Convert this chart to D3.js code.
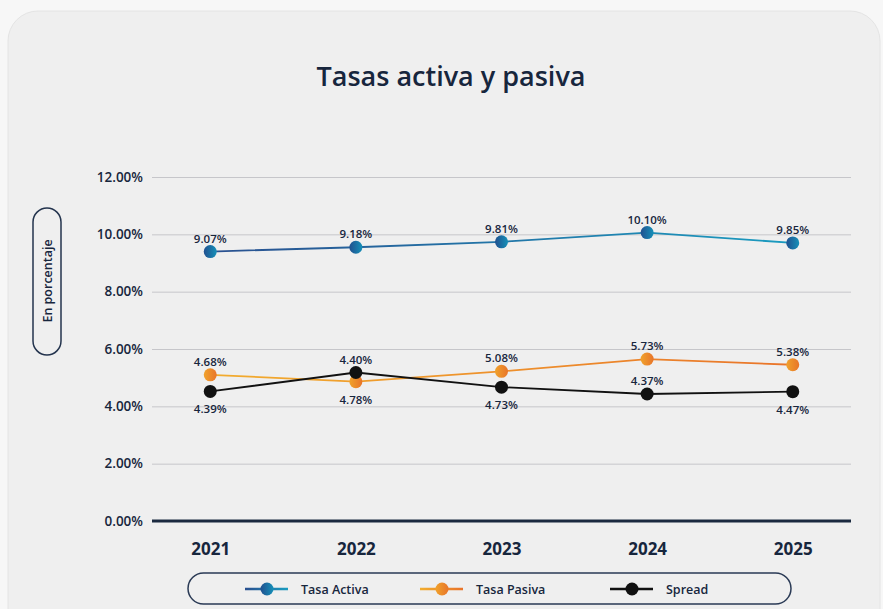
<!DOCTYPE html>
<html>
<head>
<meta charset="utf-8">
<script src="https://cdn.jsdelivr.net/npm/d3@7"></script>
<style>
  body { margin: 0; background: #f7f7f7; }
  svg { display: block; font-family: "Open Sans", "Noto Sans", sans-serif; }
</style>
</head>
<body>
<script>
// data (plotted positions) + the printed labels
const years = ['2021', '2022', '2023', '2024', '2025'];
const activa = [9.40, 9.55, 9.74, 10.06, 9.70];
const pasiva = [5.10, 4.86, 5.22, 5.65, 5.45];
const spread = [4.52, 5.18, 4.67, 4.43, 4.51];
const activaLabels = ['9.07%', '9.18%', '9.81%', '10.10%', '9.85%'];
const pasivaLabels = ['4.68%', '4.78%', '5.08%', '5.73%', '5.38%'];
const spreadLabels = ['4.39%', '4.40%', '4.73%', '4.37%', '4.47%'];
const pasivaSide = ['up', 'down', 'up', 'up', 'up'];
const spreadSide = ['down', 'up', 'down', 'up', 'down'];
const yTicks = [0, 2, 4, 6, 8, 10, 12];

const W = 883, H = 609;
const ink = '#17263d';

const svg = d3.select('body').append('svg')
    .attr('width', W)
    .attr('height', H);

const defs = svg.append('defs');

function lineGrad(id, c1, c2) {
    const g = defs.append('linearGradient').attr('id', id)
        .attr('gradientUnits', 'userSpaceOnUse')
        .attr('x1', 200).attr('x2', 800).attr('y1', 0).attr('y2', 0);
    g.append('stop').attr('offset', 0).attr('stop-color', c1);
    g.append('stop').attr('offset', 1).attr('stop-color', c2);
}
function dotGrad(id, c1, c2) {
    const g = defs.append('linearGradient').attr('id', id)
        .attr('x1', 0).attr('x2', 1).attr('y1', 0).attr('y2', 0);
    g.append('stop').attr('offset', 0).attr('stop-color', c1);
    g.append('stop').attr('offset', 1).attr('stop-color', c2);
}
lineGrad('gActiva', '#2a4f8f', '#1a9cc0');
lineGrad('gPasiva', '#f2ad2e', '#e9742a');
dotGrad('dActiva', '#21508f', '#1590b8');
dotGrad('dPasiva', '#f0a22c', '#e8752a');

// card
svg.append('rect')
    .attr('x', 8).attr('y', 11)
    .attr('width', 872).attr('height', 640)
    .attr('rx', 30)
    .attr('fill', '#efefef')
    .attr('stroke', '#e4e4e4');

svg.append('text')
    .attr('x', 451).attr('y', 86)
    .attr('text-anchor', 'middle')
    .attr('font-size', 27)
    .attr('font-weight', 600)
    .attr('fill', ink)
    .text('Tasas activa y pasiva');

const x = d3.scalePoint()
    .domain(years)
    .range([152, 851])
    .padding(0.4);

const y = d3.scaleLinear()
    .domain([0, 12])
    .range([521, 177]);

// grid
const yAxis = svg.append('g')
    .attr('transform', 'translate(152,0)')
    .call(d3.axisLeft(y).tickValues(yTicks).tickSize(-699).tickFormat(d => d.toFixed(2) + '%'));
yAxis.select('.domain').remove();
yAxis.selectAll('.tick line').attr('stroke', '#c6c6ca').attr('stroke-width', 1);
yAxis.selectAll('.tick text')
    .attr('x', -9)
    .attr('font-size', 13.5)
    .attr('font-weight', 600)
    .attr('fill', ink)
    .attr('font-family', '"Open Sans", sans-serif');

// base line
svg.append('line')
    .attr('x1', 152).attr('x2', 851)
    .attr('y1', y(0)).attr('y2', y(0))
    .attr('stroke', '#1b2a40').attr('stroke-width', 3);

// x axis labels
const xAxis = svg.append('g')
    .attr('transform', 'translate(0,' + y(0) + ')')
    .call(d3.axisBottom(x).tickSize(0).tickPadding(22));
xAxis.select('.domain').remove();
xAxis.selectAll('.tick text')
    .attr('font-size', 17)
    .attr('font-weight', 700)
    .attr('fill', ink)
    .attr('font-family', '"Open Sans", sans-serif');

// y axis label pill
svg.append('rect')
    .attr('x', 33).attr('y', 208)
    .attr('width', 28).attr('height', 147)
    .attr('rx', 14)
    .attr('fill', 'none')
    .attr('stroke', '#24344e').attr('stroke-width', 1.5);
svg.append('text')
    .attr('transform', 'translate(51.5,281) rotate(-90)')
    .attr('text-anchor', 'middle')
    .attr('font-size', 12.5)
    .attr('font-weight', 600)
    .attr('fill', ink)
    .text('En porcentaje');

const line = d3.line()
    .x((d, i) => x(years[i]))
    .y(d => y(d));

const series = [
    { vals: activa, labels: activaLabels, side: years.map(() => 'up'), stroke: 'url(#gActiva)', dot: 'url(#dActiva)' },
    { vals: pasiva, labels: pasivaLabels, side: pasivaSide, stroke: 'url(#gPasiva)', dot: 'url(#dPasiva)' },
    { vals: spread, labels: spreadLabels, side: spreadSide, stroke: '#111111', dot: '#111111' }
];

series.forEach(s => {
    svg.append('path')
        .attr('d', line(s.vals))
        .attr('fill', 'none')
        .attr('stroke', s.stroke)
        .attr('stroke-width', 1.8);
});

series.forEach(s => {
    svg.selectAll(null)
        .data(s.vals)
        .enter()
        .append('circle')
        .attr('cx', (d, i) => x(years[i]))
        .attr('cy', d => y(d))
        .attr('r', 6.5)
        .attr('fill', s.dot);

    svg.selectAll(null)
        .data(s.vals)
        .enter()
        .append('text')
        .attr('x', (d, i) => x(years[i]))
        .attr('y', (d, i) => y(d) + (s.side[i] === 'up' ? -9 : 22))
        .attr('text-anchor', 'middle')
        .attr('font-size', 11.5)
        .attr('font-weight', 600)
        .attr('fill', ink)
        .text((d, i) => s.labels[i]);
});

// legend
svg.append('rect')
    .attr('x', 188).attr('y', 573)
    .attr('width', 603).attr('height', 31)
    .attr('rx', 15.5)
    .attr('fill', 'none')
    .attr('stroke', '#2a3a55').attr('stroke-width', 1.5);

const legend = [
    { name: 'Tasa Activa', x0: 245, c1: '#2a4f8f', c2: '#1a9cc0', dot: 'url(#dActiva)' },
    { name: 'Tasa Pasiva', x0: 420, c1: '#f2ad2e', c2: '#e9742a', dot: 'url(#dPasiva)' },
    { name: 'Spread', x0: 610, c1: '#111111', c2: '#111111', dot: '#111111' }
];
legend.forEach((l, i) => {
    const g = defs.append('linearGradient').attr('id', 'lg' + i)
        .attr('gradientUnits', 'userSpaceOnUse')
        .attr('x1', l.x0).attr('x2', l.x0 + 43).attr('y1', 0).attr('y2', 0);
    g.append('stop').attr('offset', 0).attr('stop-color', l.c1);
    g.append('stop').attr('offset', 1).attr('stop-color', l.c2);
    svg.append('line')
        .attr('x1', l.x0).attr('x2', l.x0 + 43)
        .attr('y1', 589).attr('y2', 589)
        .attr('stroke', 'url(#lg' + i + ')').attr('stroke-width', 2.5);
    svg.append('circle')
        .attr('cx', l.x0 + 22).attr('cy', 589)
        .attr('r', 6.5)
        .attr('fill', l.dot);
    svg.append('text')
        .attr('x', l.x0 + 56).attr('y', 593.5)
        .attr('font-size', 12.5)
        .attr('font-weight', 600)
        .attr('fill', ink)
        .text(l.name);
});
</script>
</body>
</html>
